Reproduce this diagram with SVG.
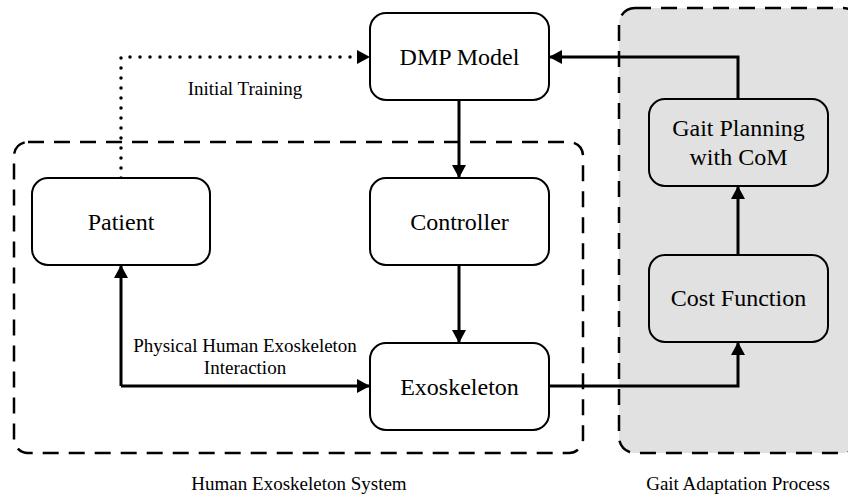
<svg xmlns="http://www.w3.org/2000/svg" width="848" height="498" viewBox="0 0 848 498">
  <style>
    .node { fill: #ffffff; stroke: #000; stroke-width: 2; }
    .node-grey { fill: none; stroke: #000; stroke-width: 2; }
    .group { stroke: #000; stroke-width: 2.5; stroke-dasharray: 16 10; }
    .label { font-family: "Liberation Serif", "Times New Roman", serif; font-size: 24px; fill: #000; text-anchor: middle; }
    .small { font-family: "Liberation Serif", "Times New Roman", serif; font-size: 19px; fill: #000; text-anchor: middle; }
    .wire { fill: none; stroke: #000; stroke-width: 3; }
    .dots { fill: none; stroke: #000; stroke-width: 3.5; stroke-linecap: round; stroke-dasharray: 0 10; }
  </style>
  <defs>
    <marker id="arrow" markerUnits="userSpaceOnUse" markerWidth="14" markerHeight="14" refX="13" refY="7" orient="auto">
      <path d="M0,0 L13,7 L0,14 Z" fill="#000"/>
    </marker>
  </defs>

  <!-- background -->
  <rect width="848" height="498" fill="#ffffff"/>

  <!-- system groupings -->
  <g id="human-exoskeleton-system">
    <rect class="group" x="14" y="142" width="569" height="311" rx="14" fill="none"/>
    <text class="small" x="299" y="490">Human Exoskeleton System</text>
  </g>
  <g id="gait-adaptation-process">
    <rect class="group" x="619" y="8" width="240" height="445" rx="16" fill="#e1e1e1"/>
    <text class="small" x="738" y="490">Gait Adaptation Process</text>
  </g>

  <!-- connectors -->
  <g id="connectors">
    <path class="dots" d="M121,178 L121,57 L357,57"/>
    <path d="M357,50 L370,57 L357,64 Z" fill="#000"/>
    <path class="wire" d="M459,100 L459,178" marker-end="url(#arrow)"/>
    <path class="wire" d="M459,265 L459,343" marker-end="url(#arrow)"/>
    <path class="wire" d="M738,99 L738,57 L549,57" marker-end="url(#arrow)"/>
    <path class="wire" d="M738,255 L738,186" marker-end="url(#arrow)"/>
    <path class="wire" d="M549,386 L738,386 L738,342" marker-end="url(#arrow)"/>
    <path class="wire" d="M121,386 L121,265" marker-end="url(#arrow)"/>
    <path class="wire" d="M121,386 L370,386" marker-end="url(#arrow)"/>
    <text class="small" x="245" y="95">Initial Training</text>
    <text class="small" x="245" y="352">Physical Human Exoskeleton</text>
    <text class="small" x="245" y="374">Interaction</text>
  </g>

  <!-- nodes -->
  <g id="dmp-model">
    <rect class="node" x="370" y="13" width="179" height="87" rx="16"/>
    <text class="label" x="459.5" y="65">DMP Model</text>
  </g>
  <g id="patient">
    <rect class="node" x="32" y="178" width="178" height="87" rx="16"/>
    <text class="label" x="121" y="230">Patient</text>
  </g>
  <g id="controller">
    <rect class="node" x="370" y="178" width="179" height="87" rx="16"/>
    <text class="label" x="459.5" y="230">Controller</text>
  </g>
  <g id="exoskeleton">
    <rect class="node" x="370" y="343" width="179" height="87" rx="16"/>
    <text class="label" x="459.5" y="395">Exoskeleton</text>
  </g>
  <g id="gait-planning">
    <rect class="node-grey" x="649" y="99" width="179" height="87" rx="16"/>
    <text class="label" x="738.5" y="136">Gait Planning</text>
    <text class="label" x="738.5" y="165">with CoM</text>
  </g>
  <g id="cost-function">
    <rect class="node-grey" x="649" y="255" width="179" height="87" rx="16"/>
    <text class="label" x="738.5" y="306">Cost Function</text>
  </g>
</svg>
